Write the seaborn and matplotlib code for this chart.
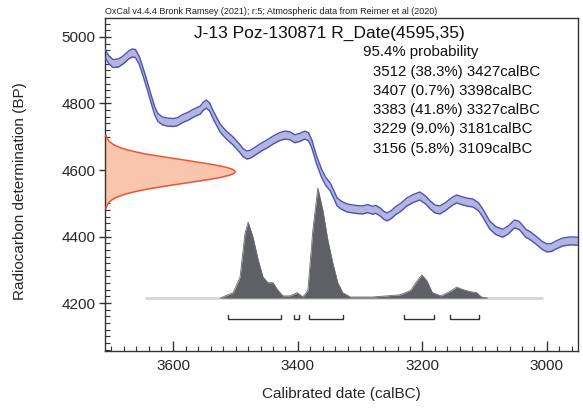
import numpy as np
import pandas as pd
import matplotlib
matplotlib.use("Agg")
import matplotlib.pyplot as plt
from matplotlib.ticker import MultipleLocator
import seaborn as sns

# ---------------- data ----------------
header = "OxCal v4.4.4 Bronk Ramsey (2021); r:5; Atmospheric data from Reimer et al (2020)"
title = "J-13 Poz-130871 R_Date(4595,35)"
r_mean = 4595
r_sd = 35

# calibration curve (IntCal20) centre
curve_cal = [3710, 3704, 3697, 3688, 3680, 3672, 3666, 3661, 3655, 3648, 3642, 3635,
             3630, 3625, 3618, 3610, 3600, 3594, 3585, 3576, 3568, 3557, 3552, 3547,
             3542, 3536, 3525, 3515, 3504, 3494, 3488, 3482, 3476, 3466, 3458, 3450,
             3440, 3430, 3421, 3413, 3405, 3397, 3389, 3383, 3378, 3370, 3362, 3355,
             3348, 3342, 3337, 3330, 3321, 3312, 3304, 3296, 3288, 3280, 3275, 3268,
             3262, 3257, 3250, 3243, 3236, 3225, 3214, 3204, 3195, 3188, 3180, 3172,
             3163, 3152, 3145, 3135, 3127, 3119, 3110, 3103, 3092, 3082, 3071, 3062,
             3052, 3045, 3040, 3034, 3028, 3018, 3008, 3000, 2993, 2984, 2974, 2962, 2950]
curve_bp = [4950, 4932, 4920, 4922, 4932, 4946, 4952, 4950, 4930, 4890, 4853, 4808,
            4777, 4758, 4748, 4744, 4743, 4745, 4755, 4762, 4771, 4780, 4792, 4798,
            4790, 4765, 4726, 4705, 4687, 4666, 4652, 4645, 4648, 4660, 4670, 4678,
            4690, 4700, 4705, 4703, 4694, 4698, 4705, 4700, 4680, 4630, 4590, 4565,
            4549, 4525, 4504, 4494, 4486, 4483, 4481, 4480, 4484, 4479, 4482, 4474,
            4464, 4459, 4466, 4478, 4486, 4504, 4515, 4522, 4510, 4496, 4483, 4480,
            4490, 4506, 4513, 4507, 4503, 4501, 4490, 4471, 4435, 4418, 4410, 4420,
            4438, 4434, 4424, 4410, 4404, 4390, 4374, 4366, 4367, 4376, 4384, 4387, 4386]
curve_err = 12

# posterior (calibrated) probability, relative
post_cal = [3525, 3504, 3493, 3485, 3480, 3472, 3464, 3456, 3448, 3440, 3432, 3424,
            3413, 3401, 3392, 3384, 3376, 3368, 3360, 3352, 3344, 3336, 3328, 3316,
            3280, 3236, 3219, 3208, 3201, 3193, 3184, 3170, 3156, 3145, 3136, 3124,
            3113, 3105, 3095]
post_p = [0.00, 0.05, 0.19, 0.59, 0.69, 0.55, 0.35, 0.19, 0.14, 0.14, 0.07, 0.02,
          0.02, 0.05, 0.01, 0.07, 0.62, 1.00, 0.80, 0.53, 0.32, 0.14, 0.05, 0.01,
          0.01, 0.03, 0.07, 0.16, 0.21, 0.16, 0.05, 0.02, 0.06, 0.10, 0.08, 0.06,
          0.05, 0.01, 0.00]
baseline_range = [3646, 3006]

# 95.4% ranges
range_from = [3512, 3407, 3383, 3229, 3156]
range_to = [3427, 3398, 3327, 3181, 3109]
range_pct = ["38.3%", "0.7%", "41.8%", "9.0%", "5.8%"]

xticks = [3600, 3400, 3200, 3000]
yticks = [4200, 4400, 4600, 4800, 5000]

# ---------------- style ----------------
sns.set_style("white")
plt.rcParams["font.family"] = ["Liberation Sans", "DejaVu Sans"]

fig = plt.figure(figsize=(5.83, 4.08), dpi=100)
ax = fig.add_axes([0.1801, 0.1397, 0.8113, 0.8162])

XMIN, XMAX = 3710, 2950
YMIN, YMAX = 4056, 5057
ax.set_xlim(XMIN, XMAX)
ax.set_ylim(YMIN, YMAX)

# calibration band
cdf = pd.DataFrame({"cal": curve_cal, "bp": curve_bp})
cdf["lo"] = cdf["bp"] - curve_err
cdf["hi"] = cdf["bp"] + curve_err
ax.fill_between(cdf["cal"], cdf["lo"], cdf["hi"], color="#b3b4e2", lw=0, zorder=2)
sns.lineplot(data=cdf, x="cal", y="lo", color="#4f52ad", lw=1.0, ax=ax, sort=False, zorder=3)
sns.lineplot(data=cdf, x="cal", y="hi", color="#4f52ad", lw=1.0, ax=ax, sort=False, zorder=3)

# radiocarbon date distribution on y axis
ys = np.linspace(r_mean - 3.15 * r_sd, r_mean + 3.15 * r_sd, 300)
pdf = np.exp(-0.5 * ((ys - r_mean) / r_sd) ** 2)
xs = XMIN - pdf * 209
ax.fill_betweenx(ys, XMIN, xs, color="#f9c5ad", lw=0, zorder=2)
ax.plot(xs, ys, color="#ee5530", lw=1.1, zorder=3)

# posterior distribution
BASE = 4215
SCALE = 331
pdf_df = pd.DataFrame({"cal": post_cal, "p": post_p})
pdf_df["y"] = BASE + pdf_df["p"] * SCALE
ax.plot(baseline_range, [BASE, BASE], color="#d6d6d6", lw=2.0, zorder=2,
        solid_capstyle="butt")
ax.fill_between(pdf_df["cal"], BASE, pdf_df["y"], color="#5f6066", lw=0, zorder=3)
sns.lineplot(data=pdf_df, x="cal", y="y", color="#6a6b70", lw=0.6, ax=ax, sort=False, zorder=3)

# range brackets
BR_Y = 4152
BR_T = 4165
for a, b in zip(range_from, range_to):
    ax.plot([a, a, b, b], [BR_T, BR_Y, BR_Y, BR_T], color="#333333", lw=1.0, zorder=3)

# text
ax.text(0.0, 1.005, header, transform=ax.transAxes, fontsize=6.5, ha="left",
        va="bottom", color="#222222")
ax.text(0.475, 0.955, title, transform=ax.transAxes, fontsize=12.5, ha="center",
        va="center", color="#111111")
ax.text(0.545, 0.898, "95.4% probability", transform=ax.transAxes, fontsize=10.8,
        ha="left", va="center", color="#111111")
for i, (a, p, b) in enumerate(zip(range_from, range_pct, range_to)):
    ax.text(0.567, 0.838 - i * 0.0575, f"{a} ({p}) {b}calBC", transform=ax.transAxes,
            fontsize=10.8, ha="left", va="center", color="#111111")

# axes
ax.set_xticks(xticks)
ax.set_yticks(yticks)
ax.xaxis.set_minor_locator(MultipleLocator(20))
ax.yaxis.set_minor_locator(MultipleLocator(20))
ax.tick_params(axis="x", which="major", direction="in", length=7, width=1,
               labelsize=11, pad=6, bottom=True, top=False, color="#333333")
ax.tick_params(axis="x", which="minor", direction="in", length=3.5, width=0.8,
               bottom=True, top=False, color="#333333")
ax.tick_params(axis="y", which="major", direction="inout", length=8, width=1,
               labelsize=11, pad=3, left=True, right=False, color="#333333")
ax.tick_params(axis="y", which="minor", direction="in", length=3.5, width=0.8,
               left=True, right=False, color="#333333")
for s in ax.spines.values():
    s.set_color("#333333")
    s.set_linewidth(1.0)
    s.set_visible(True)

ax.set_xlabel("Calibrated date (calBC)", fontsize=11, labelpad=10)
ax.set_ylabel("Radiocarbon determination (BP)", fontsize=11)
ax.yaxis.set_label_coords(-0.165, 0.48)

fig.savefig("out.png", dpi=100)
